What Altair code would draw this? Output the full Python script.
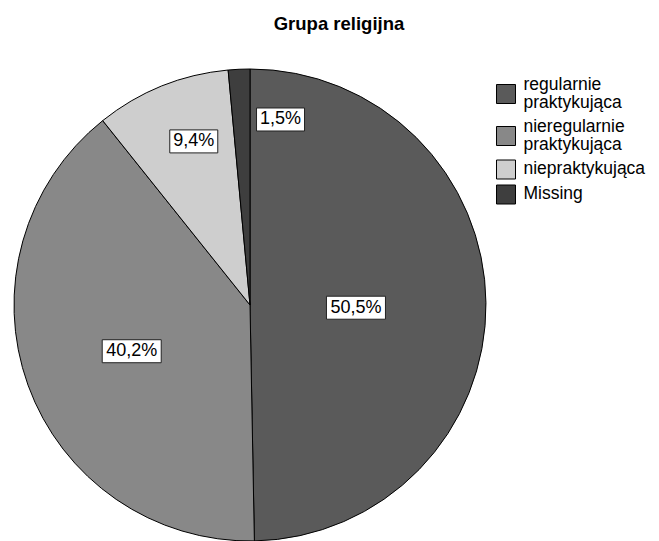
import altair as alt
import pandas as pd

# Religious group shares (percent of respondents)
categories = ["regularnie praktykująca", "nieregularnie praktykująca", "niepraktykująca", "Missing"]
shares = [50.5, 40.2, 9.4, 1.5]
slice_colors = ["#5a5a5a", "#888888", "#cecece", "#3e3e3e"]

# Label placement per slice: distance from centre (px) and angular nudge (degrees)
label_radius = [106, 127, 173, 188]
label_nudge = [2, -1.5, 3, 12]

W, H, TOP = 659, 501, 40
CX, CY, R = 250, 265, 236
FONT = "Liberation Sans"

# Key layout (view pixels)
KEY_X, KEY_Y, SWATCH, LINE_H, ROW_GAP = 506, 36, 19, 18, 6

df = pd.DataFrame({"idx": range(len(categories)), "cat": categories, "pct": shares})

color_scale = alt.Scale(domain=categories, range=slice_colors)

pie = alt.Chart(df).mark_arc(radius=R, stroke="black", strokeWidth=1).encode(
    theta=alt.Theta("pct:Q", stack=True),
    color=alt.Color("cat:N", scale=color_scale, legend=None),
    order=alt.Order("idx:Q"),
    x=alt.value(CX),
    y=alt.value(CY),
)

rad_arr = "[" + ",".join(str(v) for v in label_radius) + "]"
nudge_arr = "[" + ",".join(str(v) for v in label_nudge) + "]"

labels_base = (
    alt.Chart(df)
    .transform_joinaggregate(total="sum(pct)")
    .transform_window(cum="sum(pct)", sort=[alt.SortField("idx")], frame=[None, 0])
    .transform_calculate(
        mid=f"((datum.cum - datum.pct / 2) / datum.total) * 2 * PI + {nudge_arr}[datum.idx] * PI / 180",
        r=f"{rad_arr}[datum.idx]",
        label="replace(format(datum.pct, '.1f'), '.', ',') + '%'",
    )
    .transform_calculate(
        lx=f"{CX} + datum.r * sin(datum.mid)",
        ly=f"{CY} - datum.r * cos(datum.mid)",
        bw="11 * length(datum.label) + 4",
    )
    .transform_calculate(
        bx0="datum.lx - datum.bw / 2",
        bx1="datum.lx + datum.bw / 2",
        by0="datum.ly - 11.5",
        by1="datum.ly + 11.5",
    )
)

boxes = labels_base.mark_rect(fill="white", stroke="#222222", strokeWidth=1).encode(
    x=alt.X("bx0:Q", scale=None, axis=None),
    x2="bx1:Q",
    y=alt.Y("by0:Q", scale=None, axis=None),
    y2="by1:Q",
)

texts = labels_base.mark_text(
    font=FONT, fontSize=18, color="black", align="center", baseline="middle"
).encode(
    x=alt.X("lx:Q", scale=None, axis=None),
    y=alt.Y("ly:Q", scale=None, axis=None),
    text="label:N",
)

# Category key: one swatch per category, names wrapped onto separate lines
key_base = (
    alt.Chart(df)
    .transform_calculate(
        lines="split(datum.cat, ' ')",
    )
    .transform_calculate(
        h=f"max({SWATCH}, length(datum.lines) * {LINE_H})",
    )
    .transform_calculate(step=f"datum.h + {ROW_GAP}")
    .transform_window(acc="sum(step)", sort=[alt.SortField("idx")], frame=[None, 0])
    .transform_calculate(
        top=f"{KEY_Y} + datum.acc - datum.step",
    )
    .transform_calculate(
        cy="datum.top + datum.h / 2",
        ty="datum.top + 14",
    )
)

swatches = key_base.mark_square(
    size=SWATCH * SWATCH, stroke="black", strokeWidth=1, opacity=1
).encode(
    x=alt.value(KEY_X),
    y=alt.Y("cy:Q", scale=None, axis=None),
    color=alt.Color("cat:N", scale=color_scale, legend=None),
)

key_text = key_base.mark_text(
    font=FONT, fontSize=17.5, color="black", align="left", baseline="alphabetic",
    lineHeight=LINE_H,
).encode(
    x=alt.value(KEY_X + SWATCH / 2 + 8),
    y=alt.Y("ty:Q", scale=None, axis=None),
    text="lines:N",
)

chart = (
    alt.layer(pie, boxes, texts, swatches, key_text)
    .properties(
        width=W,
        height=H,
        title=alt.TitleParams(
            "Grupa religijna", font=FONT, fontSize=18.5, fontWeight="bold",
            color="black", anchor="middle", frame="group", dx=9.5, dy=17,
            baseline="alphabetic", offset=9,
        ),
        autosize=alt.AutoSizeParams(type="none"),
        padding={"left": 0, "top": TOP, "right": 0, "bottom": 0},
        background="white",
    )
    .configure_view(stroke=None)
)

chart.save("out.html", embed_options={"renderer": "svg", "actions": False})
